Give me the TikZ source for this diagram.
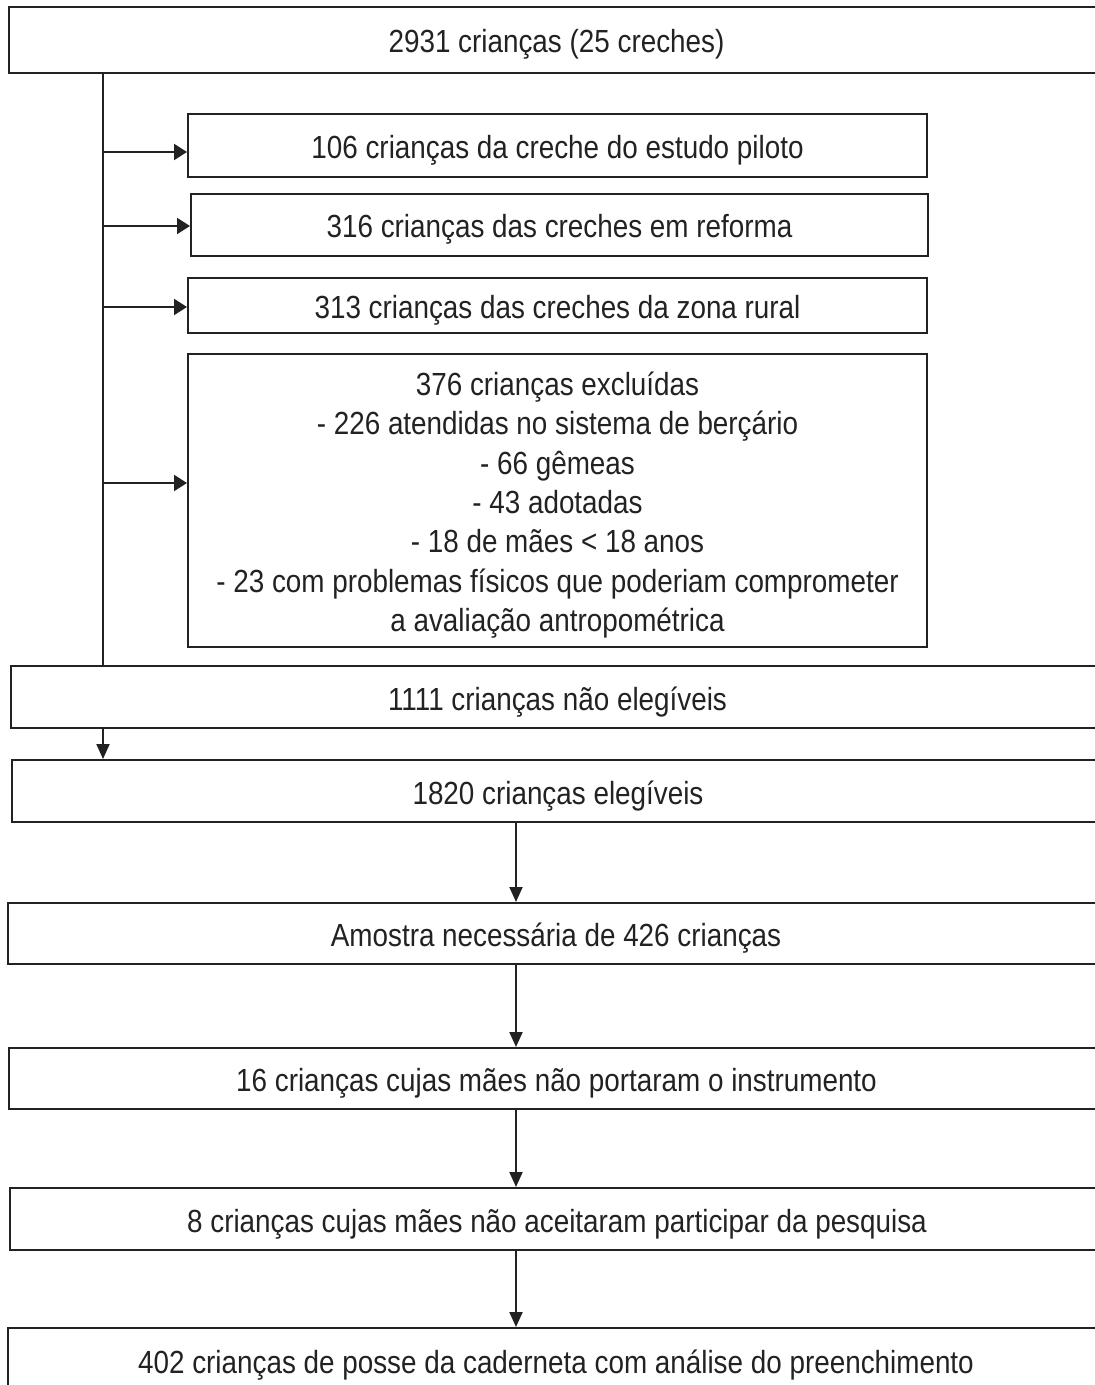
\documentclass[tikz,border=0pt]{standalone}
\usepackage{fontspec}
\setmainfont{Liberation Sans}[FakeStretch=0.87]
\usetikzlibrary{arrows.meta}
\definecolor{ink}{HTML}{222222}
\begin{document}
\begin{tikzpicture}[x=0.5pt,y=-0.5pt,
  box/.style={draw=ink,line width=1pt,rectangle,inner sep=0pt,align=center,
    text=ink,font=\fontsize{16pt}{19.65pt}\selectfont},
  one/.style={text height=15pt,text depth=2pt},
  arr/.style={draw=ink,line width=1pt,-{Triangle[length=7.5pt,width=6.5pt]}},
  harr/.style={draw=ink,line width=1pt,-{Triangle[length=6.5pt,width=8pt]}},
  ln/.style={draw=ink,line width=1pt}]
\useasboundingbox (0,0) rectangle (1094,1385);
\fill[white] (0,0) rectangle (1094,1385);

\node[box,one,minimum width=547.5pt,minimum height=33pt] (b1) at (556.5,40) {2931 crianças (25 creches)};
\node[box,one,minimum width=369.5pt,minimum height=31.5pt] (b2) at (557.5,145.5) {106 crianças da creche do estudo piloto};
\node[box,one,minimum width=368.5pt,minimum height=31pt] (b3) at (559.5,225) {316 crianças das creches em reforma};
\node[box,one,minimum width=369.5pt,minimum height=27.5pt] (b4) at (557.5,305.5) {313 crianças das creches da zona rural};
\node[box,minimum width=369.5pt,minimum height=146.5pt] (b5) at (557.5,500.5) {\rule{0pt}{16.3pt}376 crianças excluídas\\
- 226 atendidas no sistema de berçário\\
- 66 gêmeas\\
- 43 adotadas\\
- 18 de mães < 18 anos\\
- 23 com problemas físicos que poderiam comprometer\\
a avaliação antropométrica};
\node[box,one,minimum width=546.5pt,minimum height=31pt] (b6) at (557.5,697) {1111 crianças não elegíveis};
\node[box,one,minimum width=546pt,minimum height=31pt] (b7) at (558,791) {1820 crianças elegíveis};
\node[box,one,minimum width=548pt,minimum height=30.5pt] (b8) at (556,933.5) {Amostra necessária de 426 crianças};
\node[box,one,minimum width=547.5pt,minimum height=30.5pt] (b9) at (556.5,1078.5) {16 crianças cujas mães não portaram o instrumento};
\node[box,one,minimum width=547pt,minimum height=31pt] (b10) at (557,1219) {8 crianças cujas mães não aceitaram participar da pesquisa};
\node[box,one,minimum width=548pt,minimum height=32pt] (b11) at (556,1360) {402 crianças de posse da caderneta com análise do preenchimento};

\coordinate (spine) at (103,0);
\coordinate (mid) at (516,0);
\coordinate (a2) at (103,152);
\coordinate (a3) at (103,226);
\coordinate (a4) at (103,307);
\coordinate (a5) at (103,483);

\draw[ln] (b1.south -| spine) -- (b6.north -| spine);
\draw[harr] (a2) -- (a2 -| b2.west);
\draw[harr] (a3) -- (a3 -| b3.west);
\draw[harr] (a4) -- (a4 -| b4.west);
\draw[harr] (a5) -- (a5 -| b5.west);
\draw[arr] (b6.south -| spine) -- (b7.north -| spine);
\draw[arr] (b7.south -| mid) -- (b8.north -| mid);
\draw[arr] (b8.south -| mid) -- (b9.north -| mid);
\draw[arr] (b9.south -| mid) -- (b10.north -| mid);
\draw[arr] (b10.south -| mid) -- (b11.north -| mid);
\end{tikzpicture}
\end{document}
